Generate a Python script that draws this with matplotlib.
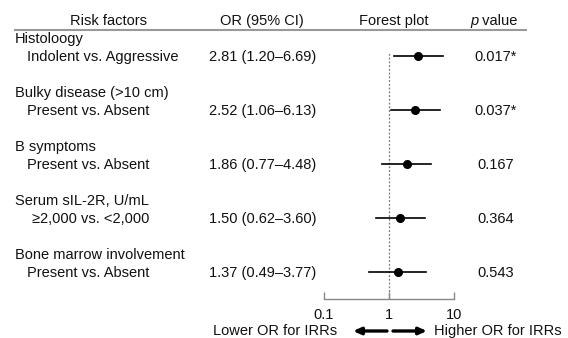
import matplotlib
matplotlib.use("Agg")
import matplotlib.pyplot as plt
import numpy as np

plt.rcParams['font.family'] = ['Liberation Sans', 'DejaVu Sans']

groups = ["Histoloogy", "Bulky disease (>10 cm)", "B symptoms",
          "Serum sIL-2R, U/mL", "Bone marrow involvement"]
comparisons = ["Indolent vs. Aggressive", "Present vs. Absent", "Present vs. Absent",
               "\u22652,000 vs. <2,000", "Present vs. Absent"]
or_vals = [2.81, 2.52, 1.86, 1.50, 1.37]
ci_low = [1.20, 1.06, 0.77, 0.62, 0.49]
ci_high = [6.69, 6.13, 4.48, 3.60, 3.77]
p_vals = ["0.017*", "0.037*", "0.167", "0.364", "0.543"]
headers = ["Risk factors", "OR (95% CI)", "Forest plot", "p value"]
x_ticks = [0.1, 1, 10]
x_ticklabels = ["0.1", "1", "10"]

W, H = 568, 338
fig = plt.figure(figsize=(W / 100, H / 100), dpi=100)
fig.patch.set_facecolor("white")

# background axes in pixel coords
bg = fig.add_axes([0, 0, 1, 1])
bg.set_xlim(0, W)
bg.set_ylim(H, 0)
bg.axis("off")

fs = 10.5
tc = "#111111"
row0, step = 56.0, 54.0
rows = [row0 + i * step for i in range(len(groups))]

# headers
bg.text(108, 21, headers[0], ha="center", va="center", fontsize=fs, color=tc)
bg.text(262, 21, headers[1], ha="center", va="center", fontsize=fs, color=tc)
bg.text(394, 21, headers[2], ha="center", va="center", fontsize=fs, color=tc)
bg.text(478, 21, "p", ha="right", va="center", fontsize=fs, style="italic", color=tc)
bg.text(478, 21, " value", ha="left", va="center", fontsize=fs, color=tc)
bg.plot([14, 527], [29.5, 29.5], color="#999999", lw=1.5, solid_capstyle="butt")

for i, y in enumerate(rows):
    bg.text(15, y - 17, groups[i], ha="left", va="center", fontsize=fs, color=tc)
    xoff = 32 if comparisons[i].startswith("\u2265") else 27
    bg.text(xoff, y + 1, comparisons[i], ha="left", va="center", fontsize=fs, color=tc)
    bg.text(209, y + 1, f"{or_vals[i]:.2f} ({ci_low[i]:.2f}\u2013{ci_high[i]:.2f})",
            ha="left", va="center", fontsize=fs, color=tc)
    bg.text(496, y + 1, p_vals[i], ha="center", va="center", fontsize=fs, color=tc)

# forest axes
x0, x1 = 324, 454
ytop, ybot = 51.7, 299
ax = fig.add_axes([x0 / W, (H - ybot) / H, (x1 - x0) / W, (ybot - ytop) / H])
ax.set_xscale("log")
ax.set_xlim(0.1, 10)
ax.set_ylim(ybot, ytop)
ax.patch.set_alpha(0)
for s in ["top", "right", "left"]:
    ax.spines[s].set_visible(False)
ax.spines["bottom"].set_color("#888888")
ax.spines["bottom"].set_linewidth(1.0)
ax.set_yticks([])
ax.set_xticks(x_ticks)
ax.set_xticklabels(x_ticklabels, fontsize=fs, color=tc)
ax.minorticks_off()
ax.tick_params(axis="x", direction="in", length=5, color="#888888", width=1.0, pad=6.5)

ax.axvline(1, color="#777777", lw=0.9, ls=(0, (1.5, 1.5)), zorder=1)
for i, y in enumerate(rows):
    ax.plot([ci_low[i], ci_high[i]], [y, y], color="black", lw=1.2, zorder=2)
    ax.plot(or_vals[i], y, "o", color="black", ms=5.5, zorder=3)

# bottom labels with arrows
bg.text(337, 331, "Lower OR for IRRs", ha="right", va="center", fontsize=fs, color=tc)
bg.text(434, 331, "Higher OR for IRRs", ha="left", va="center", fontsize=fs, color=tc)
bg.annotate("", xy=(353, 331), xytext=(387, 331),
            arrowprops=dict(arrowstyle="-|>,head_length=0.45,head_width=0.2", color="black", lw=2.4,
                            shrinkA=0, shrinkB=0))
bg.annotate("", xy=(427, 331), xytext=(393, 331),
            arrowprops=dict(arrowstyle="-|>,head_length=0.45,head_width=0.2", color="black", lw=2.4,
                            shrinkA=0, shrinkB=0))

fig.savefig("out.png", dpi=100)
